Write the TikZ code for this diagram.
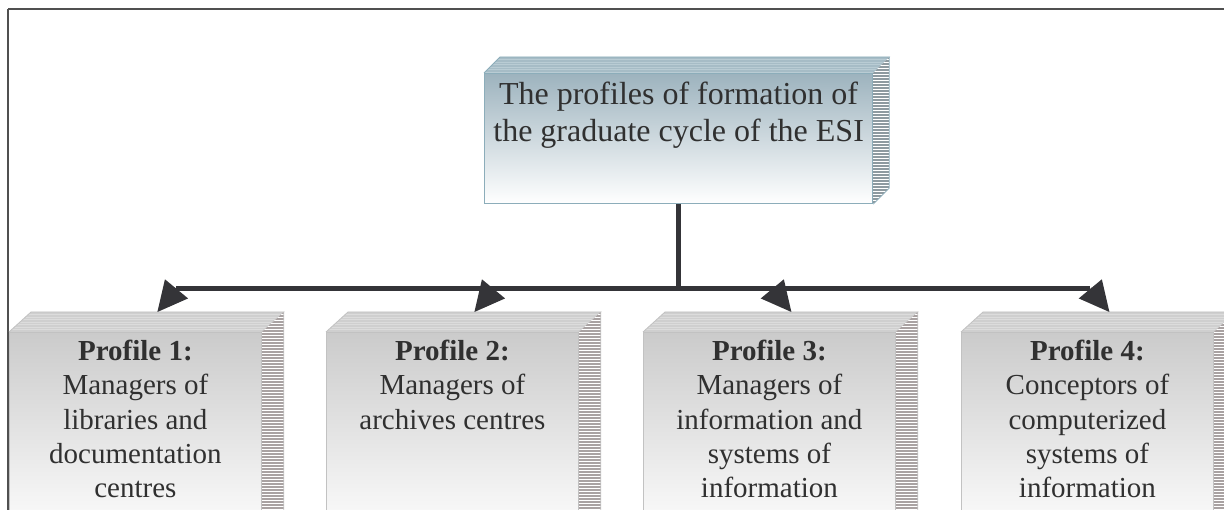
\documentclass[tikz,border=0pt]{standalone}
\usepackage{fontspec}
\setmainfont{Liberation Serif}
\usetikzlibrary{calc,arrows.meta}

\definecolor{ink}{HTML}{303030}
\definecolor{conn}{HTML}{343438}
\definecolor{framec}{HTML}{505050}
\definecolor{ttop}{HTML}{9DB3BE}
\definecolor{tmid}{HTML}{D3DEE2}
\definecolor{tedge}{HTML}{8CADBA}
\definecolor{tface}{HTML}{A6BCC6}
\definecolor{tfaceline}{HTML}{B9CCD4}
\definecolor{tstripe}{HTML}{8E9AA0}
\definecolor{ptop}{HTML}{CBCBCB}
\definecolor{pmid}{HTML}{E6E8E8}
\definecolor{pedge}{HTML}{C2C2C2}
\definecolor{pface}{HTML}{CFCFCF}
\definecolor{pfaceline}{HTML}{DCDCDC}
\definecolor{pstripe}{HTML}{A9A2A2}

\tikzset{
  titlebox/.style={draw=tedge, line width=1.2pt, top color=ttop, middle color=tmid,
    bottom color=white, anchor=north west, minimum width=388pt, minimum height=130pt,
    inner sep=0pt},
  profbox/.style={draw=pedge, line width=0.8pt, top color=ptop, middle color=pmid,
    bottom color=white, anchor=north west, minimum width=252pt, minimum height=210pt,
    inner sep=0pt},
  titletext/.style={text=ink, font=\fontsize{32}{37}\selectfont, align=center,
    inner sep=0pt, anchor=north},
  proftext/.style={text=ink, font=\fontsize{29}{34.3}\selectfont, align=center,
    inner sep=0pt, anchor=north},
  conn/.style={draw=conn, line width=5pt},
  arrowconn/.style={conn, -{Triangle[length=30pt,width=30pt,line width=0pt]}},
  framestyle/.style={draw=framec, line width=2pt}
}

% top face and striped side face of a box, given its front node,
% the depth offset (dx,dy) and the colours to use
\newcommand{\boxsides}[7]{%
  % #1 node, #2 dx, #3 dy, #4 face colour, #5 face line colour, #6 stripe colour, #7 edge colour
  \fill[#4] (#1.north west) -- ++(#2,-#3) -- ($(#1.north east)+(#2,-#3)$) -- (#1.north east) -- cycle;
  \begin{scope}
    \clip (#1.north west) -- ++(#2,-#3) -- ($(#1.north east)+(#2,-#3)$) -- (#1.north east) -- cycle;
    \foreach \k in {1,...,8}
      \draw[#5, line width=0.7pt] ($(#1.north west)+(0,-#3+2.5*\k)$) -- ++(600,0);
  \end{scope}
  \draw[#7, line width=0.8pt] (#1.north west) -- ++(#2,-#3) -- ($(#1.north east)+(#2,-#3)$) -- (#1.north east);
  \begin{scope}
    \clip (#1.north east) -- ++(#2,-#3) -- ($(#1.south east)+(#2,-#3)$) -- (#1.south east) -- cycle;
    \fill[white] ($(#1.north east)+(0,-#3)$) rectangle ($(#1.south east)+(#2,0)$);
    \foreach \k in {0,...,90}
      \draw[#6, line width=1.7pt] ($(#1.north east)+(0,-#3+1+3*\k)$) -- ++(#2,0);
  \end{scope}
  \draw[#7, line width=0.8pt] ($(#1.north east)+(#2,-#3)$) -- ($(#1.south east)+(#2,-#3)$) -- (#1.south east);
}

\begin{document}
\begin{tikzpicture}[x=1pt,y=-1pt]
\useasboundingbox (0,0) rectangle (1224,510);
\clip (0,0) rectangle (1224,510);
\fill[white] (0,0) rectangle (1224,510);

% outer frame (top and left edges)
\draw[framestyle] (8,9) -- (1230,9);
\draw[framestyle] (8,9) -- (8,520);

% title box
\node[titlebox] (title) at (484,73) {};
\boxsides{title}{16}{16}{tface}{tfaceline}{tstripe}{tedge}
\node[titletext] (titlelbl) at ($(title.north)+(0,8.5)$)
  {The profiles of formation of\\the graduate cycle of the ESI};

% profile boxes
\node[profbox] (p1) at (9,332) {};
\node[profbox] (p2) at (326,332) {};
\node[profbox] (p3) at (643,332) {};
\node[profbox] (p4) at (961,332) {};
\foreach \p in {p1,p2,p3,p4}{
  \boxsides{\p}{22}{20}{pface}{pfaceline}{pstripe}{pedge}
  \coordinate (\p top) at ($(\p.north)+(22,-20)$);
}

\node[proftext] (p1lbl) at ($(p1.north)+(0,8)$)
  {\textbf{Profile 1:}\\Managers of\\libraries and\\documentation\\centres};
\node[proftext] (p2lbl) at ($(p2.north)+(0,8)$)
  {\textbf{Profile 2:}\\Managers of\\archives centres};
\node[proftext] (p3lbl) at ($(p3.north)+(0,8)$)
  {\textbf{Profile 3:}\\Managers of\\information and\\systems of\\information};
\node[proftext] (p4lbl) at ($(p4.north)+(0,8)$)
  {\textbf{Profile 4:}\\Conceptors of\\computerized\\systems of\\information};

% connectors
\coordinate (a1) at ($(p1top)+(19,-23)$);
\coordinate (a2) at ($(p2top)+(19,-23)$);
\coordinate (a3) at ($(p3top)+(-19,-23)$);
\coordinate (a4) at ($(p4top)+(-19,-23)$);
\coordinate (hub) at (title.south |- a1);

\draw[conn] (title.south) -- (hub);
\draw[conn] (a1) -- (a4);
\foreach \i in {1,2,3,4}
  \draw[arrowconn] (a\i) -- (p\i top);
\end{tikzpicture}
\end{document}
